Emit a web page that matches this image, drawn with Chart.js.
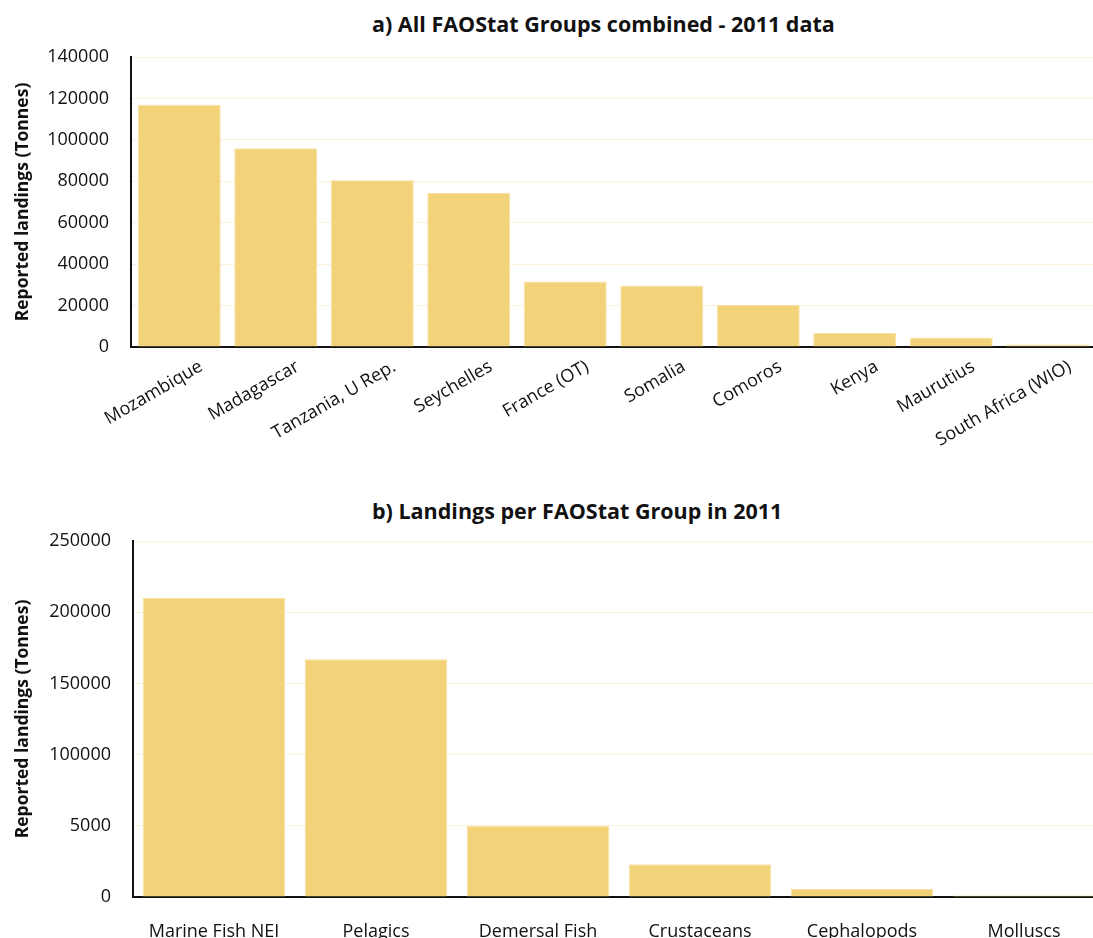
<!DOCTYPE html>
<html>
<head>
<meta charset="utf-8">
<script src="https://cdn.jsdelivr.net/npm/chart.js@4.4.0/dist/chart.umd.min.js"></script>
<style>
  html, body { margin: 0; padding: 0; background: #fff; overflow: hidden; width: 1093px; height: 938px; }
  .title { position: absolute; left: 372px; font-family: "Open Sans", sans-serif; font-weight: bold; font-size: 21.5px; color: #111; white-space: nowrap; }
  canvas { position: absolute; left: 0; }
</style>
</head>
<body>
<div class="title" style="top: 9px;">a) All FAOStat Groups combined - 2011 data</div>
<canvas id="chartA" width="1096" height="470" style="top: 0;"></canvas>
<div class="title" style="top: 496px;">b) Landings per FAOStat Group in 2011</div>
<canvas id="chartB" width="1105" height="460" style="top: 490px;"></canvas>
<script>
// Data
const countries = ['Mozambique', 'Madagascar', 'Tanzania, U Rep.', 'Seychelles', 'France (OT)', 'Somalia', 'Comoros', 'Kenya', 'Maurutius', 'South Africa (WIO)'];
const countryLandings = [117000, 96000, 80500, 74300, 31600, 29700, 20300, 6800, 4600, 1200];

const groups = ['Marine Fish NEI', 'Pelagics', 'Demersal Fish', 'Crustaceans', 'Cephalopods', 'Molluscs'];
const groupLandings = [210000, 167000, 50000, 23000, 5600, 1000];

// tick labels of chart b as printed in the original (note "5000")
const groupTickLabels = ['0', '5000', '100000', '150000', '200000', '250000'];

const barColor = '#f3d37a';
const gridColor = '#fcf1da';
const tickFont = { family: 'Open Sans', size: 18 };
const axisTitleFont = { family: 'Open Sans', size: 17.5, weight: 'bold' };

function makeChart(id, labels, values, opts) {
  const ctx = document.getElementById(id).getContext('2d');
  return new Chart(ctx, {
    type: 'bar',
    data: {
      labels: labels,
      datasets: [
        {
          data: values,
          backgroundColor: barColor,
          borderColor: '#f8e2a4',
          borderWidth: 1,
          barPercentage: opts.barPct,
          categoryPercentage: 1,
        },
      ],
    },
    options: {
      responsive: false,
      animation: false,
      layout: { padding: { top: opts.top, left: 0, right: 0, bottom: 0 } },
      plugins: {
        legend: { display: false },
        tooltip: { enabled: false },
      },
      scales: {
        x: {
          grid: { display: false },
          border: { color: '#111', width: 2 },
          ticks: {
            color: '#111',
            font: tickFont,
            autoSkip: false,
            minRotation: opts.rotation,
            maxRotation: opts.rotation,
            padding: opts.xPad,
            labelOffset: opts.labelOffset,
          },
          afterFit: function (scale) { scale.height = opts.xHeight; },
        },
        y: {
          min: 0,
          max: opts.max,
          grid: { color: gridColor, drawTicks: false },
          border: { color: '#111', width: 2 },
          ticks: {
            stepSize: opts.step,
            color: '#111',
            font: tickFont,
            padding: 22,
            callback: opts.tickCallback,
          },
          title: {
            display: true,
            text: 'Reported landings (Tonnes)',
            color: '#111',
            font: axisTitleFont,
            padding: { top: 13, bottom: 0 },
          },
          afterFit: function (scale) { scale.width = opts.yWidth; },
        },
      },
    },
  });
}

makeChart('chartA', countries, countryLandings, {
  barPct: 0.86,
  top: 57,
  rotation: 30,
  xPad: 1,
  labelOffset: 22,
  xHeight: 123,
  max: 140000,
  step: 20000,
  yWidth: 131,
  tickCallback: function (value) { return String(value); },
});

makeChart('chartB', groups, groupLandings, {
  barPct: 0.88,
  top: 51,
  rotation: 0,
  xPad: 16,
  labelOffset: 0,
  xHeight: 53,
  max: 250000,
  step: 50000,
  yWidth: 133,
  tickCallback: function (value, index) { return groupTickLabels[index]; },
});
</script>
</body>
</html>
